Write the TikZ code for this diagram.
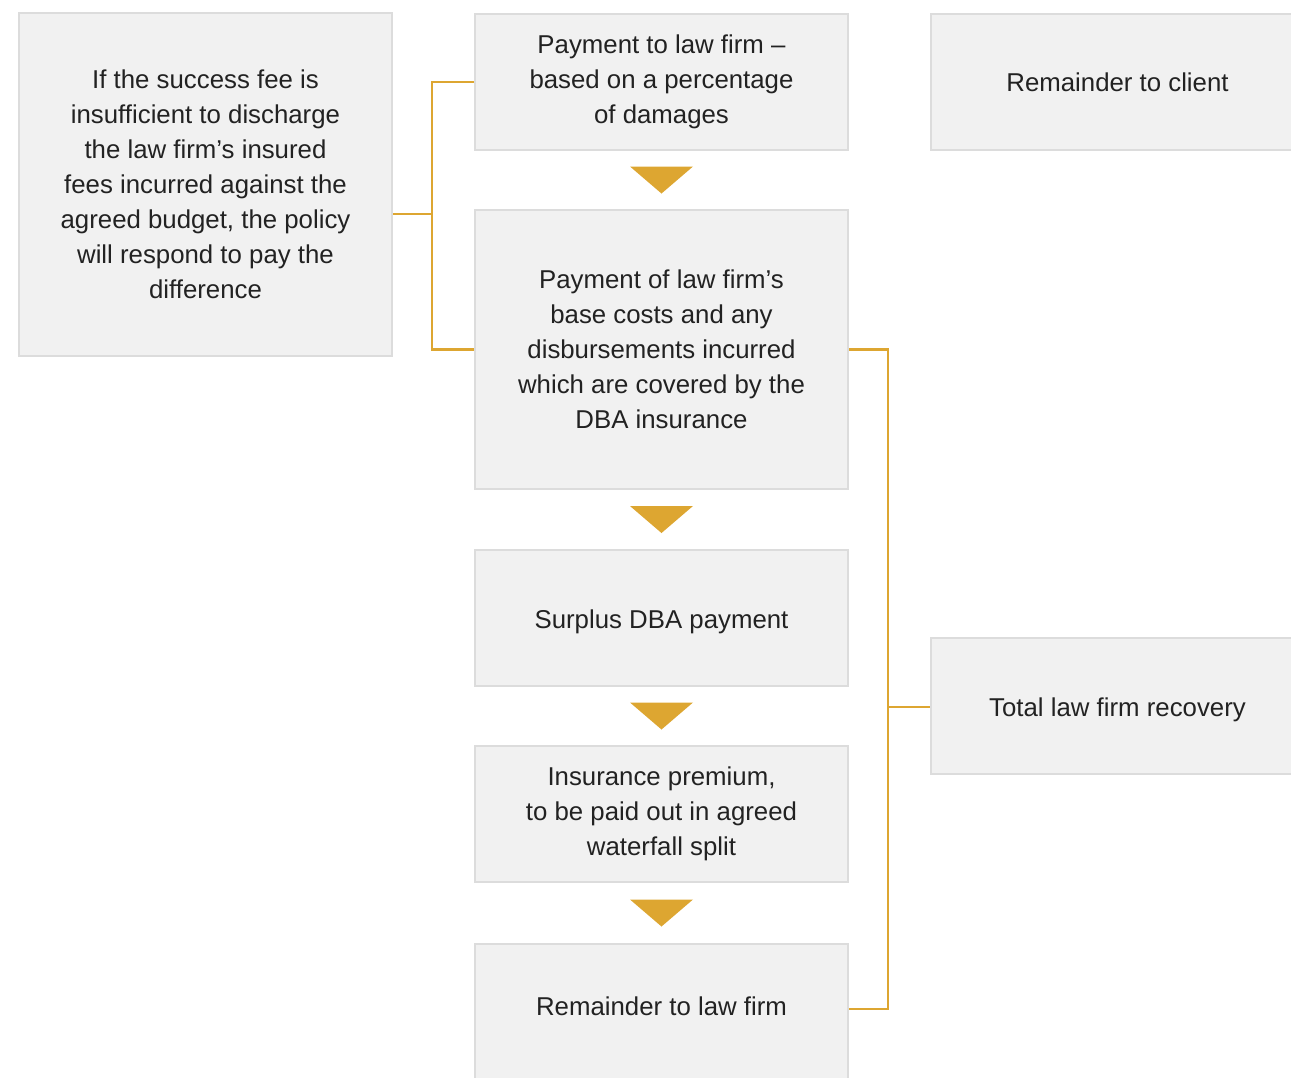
\documentclass[tikz,border=0pt]{standalone}
\usepackage{fontspec}
\setmainfont{Liberation Sans}
\usetikzlibrary{calc}
\definecolor{boxfill}{HTML}{F1F1F1}
\definecolor{boxline}{HTML}{DCDCDC}
\definecolor{gold}{HTML}{DDA631}
\definecolor{ink}{HTML}{222222}
\begin{document}
\begin{tikzpicture}[x=1pt,y=-1pt,
  stage/.style={draw=boxline, line width=2.5pt, fill=boxfill, inner sep=0pt,
    minimum width=373pt, minimum height=136pt, align=center, text=ink,
    font=\fontsize{25.8}{35}\selectfont},
  oneline/.style={text height=20pt, text depth=0pt},
  link/.style={draw=gold, line width=2.8pt},
  flowtip/.style={fill=gold, draw=none}]
\useasboundingbox (0,0) rectangle (1291,1077);
\clip (0,0) rectangle (1291,1077);

% left explanatory box
\node[stage, minimum height=343pt] (policy) at (205.5,184.5)
  {If the success fee is\\insufficient to discharge\\the law firm’s insured\\fees incurred against the\\agreed budget, the policy\\will respond to pay the\\difference};

% central waterfall
\node[stage] (pct) at (661.5,82) {Payment to law firm –\\based on a percentage\\of damages};
\node[stage, minimum height=279pt] (base) at (661.5,349.5)
  {Payment of law firm’s\\base costs and any\\disbursements incurred\\which are covered by the\\DBA insurance};
\node[stage, oneline] (surplus) at (661.5,618) {Surplus DBA payment};
\node[stage] (premium) at (661.5,814) {Insurance premium,\\to be paid out in agreed\\waterfall split};
\node[stage, text height=10pt, text depth=3.6pt] (rest) at (661.5,1012) {Remainder to law firm};

% right column
\node[stage] (client) at (1117.5,82) {Remainder to client};
\node[stage, oneline] (total) at (1117.5,706) {Total law firm recovery};

% downward markers between the central boxes
\foreach \a/\b in {pct/base, base/surplus, surplus/premium, premium/rest}{
  \coordinate (m) at ($(\a.south)!0.5!(\b.north)$);
  \fill[flowtip] ($(m)+(-31.5,-13.5)$) -- ($(m)+(31.5,-13.5)$) -- ($(m)+(0,13.5)$) -- cycle;
}

% left bracket
\coordinate (lj) at (432,214);
\draw[link] (lj -| policy.east) -- (lj);
\draw[link] (pct.west) -| (lj) |- (base.west);

% right bracket
\coordinate (rj) at (888,707);
\draw[link] (base.east) -| (rj);
\draw[link] ($(rest.east)+(0,-3)$) -| (rj);
\draw[link] (rj) -- (rj -| total.west);
\end{tikzpicture}
\end{document}
